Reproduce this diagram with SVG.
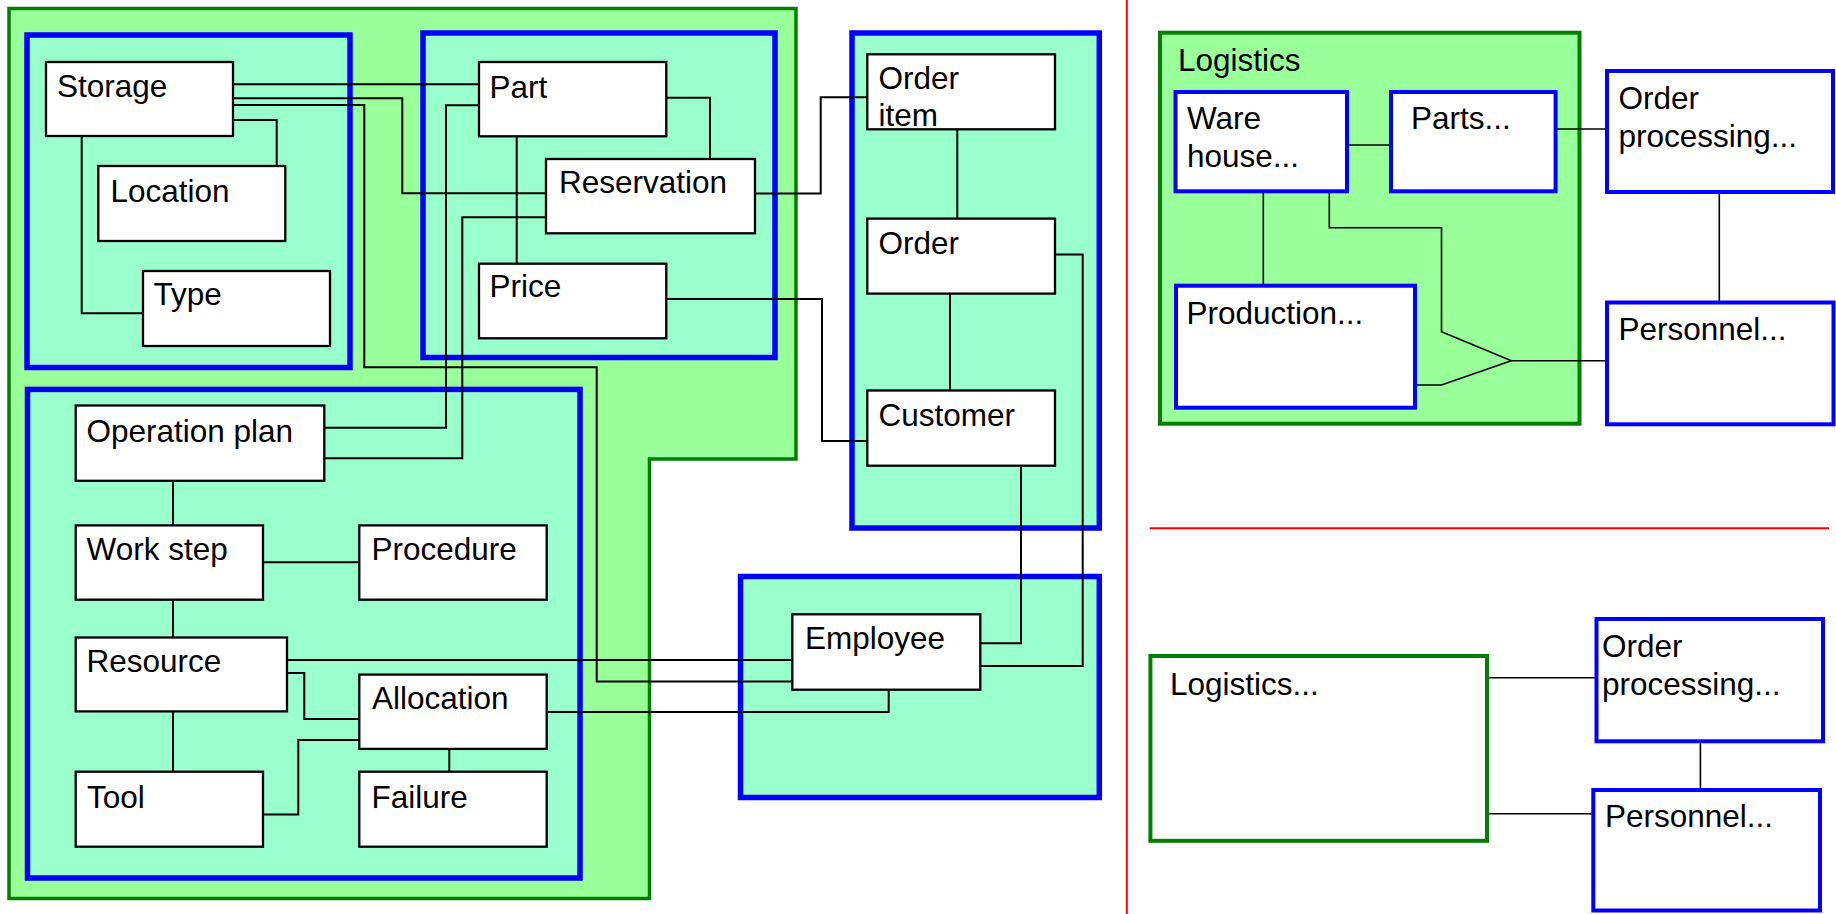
<svg xmlns="http://www.w3.org/2000/svg" width="1836" height="914" viewBox="0 0 1836 914">
  <style>
    .bg { fill: #ffffff; }
    .area { fill: #99ff99; stroke: #007f00; stroke-width: 3.5; }
    .pkg { fill: #99ffcc; stroke: #0000ff; stroke-width: 5.5; }
    .box { fill: #ffffff; stroke: #000000; stroke-width: 2.3; }
    .sub { fill: #ffffff; stroke: #0000ff; stroke-width: 4; }
    .logi { fill: #ffffff; stroke: #007f00; stroke-width: 4; }
    .logiArea { fill: #99ff99; stroke: #007f00; stroke-width: 4; }
    .link { fill: none; stroke: #000000; stroke-width: 2; }
    .thin { fill: none; stroke: #000000; stroke-width: 1.6; }
    .sep { stroke: #ff0000; stroke-width: 2; fill: none; }
    text { font-family: "Liberation Sans", Arial, sans-serif; font-size: 31.5px; fill: #000000; }
  </style>

  <rect class="bg" x="0" y="0" width="1836" height="914"/>

  <!-- Left: detailed class model -->
  <g id="containers">
    <polygon id="area-main" class="area" points="9,8.5 796,8.5 796,459 649.5,459 649.5,898.5 9,898.5"/>
    <rect id="pkg-storage" class="pkg" x="27" y="35" width="323" height="332.5"/>
    <rect id="pkg-part" class="pkg" x="423" y="33" width="352" height="324.5"/>
    <rect id="pkg-order" class="pkg" x="852" y="33" width="247.3" height="495"/>
    <rect id="pkg-operation" class="pkg" x="27.5" y="389.4" width="552.5" height="488.6"/>
    <rect id="pkg-employee" class="pkg" x="740.5" y="576.5" width="358.8" height="221"/>
  </g>

  <g id="connectors">
    <path class="link" d="M233,84.3 H479"/>
    <path class="link" d="M233,98.3 H402.3 V193.3 H546"/>
    <path class="link" d="M233,105 H364.3 V367.3 H596.7 V681.5 H792.3"/>
    <path class="link" d="M233,120 H276.7 V166"/>
    <path class="link" d="M81.7,136 V313.3 H143"/>
    <path class="link" d="M479,105.3 H446 V427.7 H324.3"/>
    <path class="link" d="M546,217.3 H462.3 V458.3 H324.3"/>
    <path class="link" d="M666.3,97.7 H710 V159"/>
    <path class="link" d="M516.7,136.3 V263.7"/>
    <path class="link" d="M755,193.5 H820.7 V97.3 H867.3"/>
    <path class="link" d="M666.3,299 H822 V441 H867.3"/>
    <path class="link" d="M957.3,129.3 V218.6"/>
    <path class="link" d="M950,293.6 V390.4"/>
    <path class="link" d="M1055,254.6 H1082.7 V666 H980.3"/>
    <path class="link" d="M1021,465.7 V643.3 H980.3"/>
    <path class="link" d="M173,480.8 V525.4"/>
    <path class="link" d="M263,562.2 H359.3"/>
    <path class="link" d="M173,599.7 V637.5"/>
    <path class="link" d="M173,711.4 V771.7"/>
    <path class="link" d="M287,672.9 H304.3 V718.9 H359.3"/>
    <path class="link" d="M263,814.6 H298.3 V740 H359.3"/>
    <path class="link" d="M449.3,748.9 V771.7"/>
    <path class="link" d="M287,660 H792.3"/>
    <path class="link" d="M546.7,712 H888.7 V689.7"/>
  </g>

  <g id="node-storage"><rect class="box" x="46" y="62" width="187" height="74"/><text x="57" y="97.3">Storage</text></g>
  <g id="node-location"><rect class="box" x="98.3" y="166" width="187" height="75"/><text x="110.5" y="201.7">Location</text></g>
  <g id="node-type"><rect class="box" x="143" y="271" width="187" height="75"/><text x="153.5" y="305">Type</text></g>
  <g id="node-part"><rect class="box" x="479" y="62" width="187.3" height="74.3"/><text x="489.5" y="98.3">Part</text></g>
  <g id="node-reservation"><rect class="box" x="546" y="159" width="209" height="74.3"/><text x="559" y="193.3">Reservation</text></g>
  <g id="node-price"><rect class="box" x="479" y="263.7" width="187.3" height="74.6"/><text x="489.5" y="296.7">Price</text></g>
  <g id="node-order-item"><rect class="box" x="867.3" y="54.3" width="187.7" height="75"/><text x="878.5" y="89.3">Order</text><text x="878.5" y="125.7">item</text></g>
  <g id="node-order"><rect class="box" x="867.3" y="218.6" width="187.7" height="75"/><text x="878.5" y="254.3">Order</text></g>
  <g id="node-customer"><rect class="box" x="867.3" y="390.5" width="187.7" height="75.2"/><text x="878.5" y="425.7">Customer</text></g>
  <g id="node-employee"><rect class="box" x="792.3" y="614.3" width="188" height="75.4"/><text x="805" y="649.3">Employee</text></g>
  <g id="node-operation-plan"><rect class="box" x="75.7" y="405.5" width="248.6" height="75.3"/><text x="86.5" y="442.3">Operation plan</text></g>
  <g id="node-work-step"><rect class="box" x="75.7" y="525.4" width="187.3" height="74.3"/><text x="86.5" y="559.5">Work step</text></g>
  <g id="node-procedure"><rect class="box" x="359.3" y="525.4" width="187.4" height="74.3"/><text x="371.5" y="559.5">Procedure</text></g>
  <g id="node-resource"><rect class="box" x="75.7" y="637.5" width="211.3" height="73.9"/><text x="86.5" y="671.9">Resource</text></g>
  <g id="node-allocation"><rect class="box" x="359.3" y="674.6" width="187.4" height="74.3"/><text x="372" y="708.7">Allocation</text></g>
  <g id="node-tool"><rect class="box" x="75.7" y="771.7" width="187.3" height="75"/><text x="87" y="807.5">Tool</text></g>
  <g id="node-failure"><rect class="box" x="359.3" y="771.7" width="187.4" height="75"/><text x="371.5" y="807.5">Failure</text></g>

  <!-- Separators between the views -->
  <g id="separators">
    <line class="sep" x1="1126.8" y1="0" x2="1126.8" y2="914"/>
    <line class="sep" x1="1149.7" y1="528.3" x2="1829" y2="528.3"/>
  </g>

  <!-- Right top: subsystem overview -->
  <g id="node-logistics-area"><rect class="logiArea" x="1160" y="32.7" width="419.5" height="391"/><text x="1178" y="70.5">Logistics</text></g>
  <g id="connectors-overview">
    <path class="thin" d="M1347,145 H1391"/>
    <path class="thin" d="M1555.6,129 H1607"/>
    <path class="thin" d="M1263.3,191.3 V285.7"/>
    <path class="thin" d="M1719.3,192 V302.5"/>
    <path class="thin" d="M1329.3,191.3 V227.7 H1441.5 V331.7 L1511.3,360.7 H1607"/>
    <path class="thin" d="M1415,385 H1441.5 L1511.3,360.7"/>
  </g>
  <g id="node-warehouse"><rect class="sub" x="1175.5" y="92" width="171.5" height="99.3"/><text x="1187" y="129.3">Ware</text><text x="1187" y="166.7">house...</text></g>
  <g id="node-parts"><rect class="sub" x="1391" y="92" width="164.6" height="99.3"/><text x="1411" y="129.3">Parts...</text></g>
  <g id="node-order-processing"><rect class="sub" x="1607" y="71" width="226" height="121"/><text x="1618.5" y="109.3">Order</text><text x="1618.5" y="146.7">processing...</text></g>
  <g id="node-production"><rect class="sub" x="1176" y="285.7" width="239" height="122"/><text x="1186.5" y="324">Production...</text></g>
  <g id="node-personnel"><rect class="sub" x="1607" y="302.5" width="226.5" height="121.8"/><text x="1618.5" y="340">Personnel...</text></g>

  <!-- Right bottom: collapsed overview -->
  <g id="connectors-collapsed">
    <path class="thin" d="M1487,677.7 H1596.5"/>
    <path class="thin" d="M1484,813.7 H1593.3"/>
    <path class="thin" d="M1700.4,741.3 V790"/>
  </g>
  <g id="node-logistics"><rect class="logi" x="1150.4" y="656" width="336.6" height="184.8"/><text x="1170" y="695">Logistics...</text></g>
  <g id="node-order-processing-2"><rect class="sub" x="1596.5" y="619" width="226.5" height="122.3"/><text x="1602" y="657.3">Order</text><text x="1602" y="695">processing...</text></g>
  <g id="node-personnel-2"><rect class="sub" x="1593.3" y="790" width="226.7" height="120.5"/><text x="1605" y="827.3">Personnel...</text></g>
</svg>
